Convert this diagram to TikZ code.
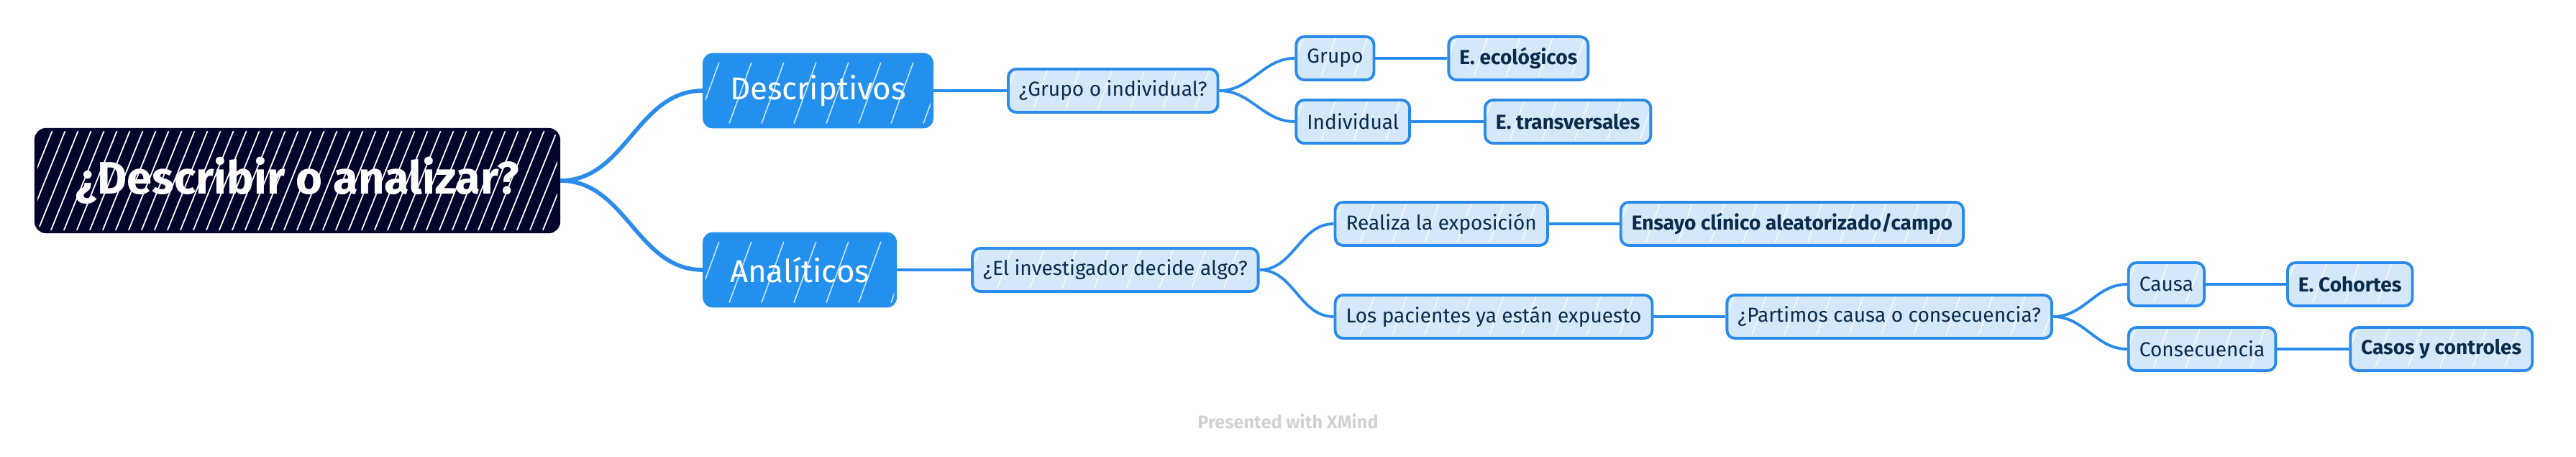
\documentclass[tikz,border=0pt]{standalone}
\usepackage{fontspec}
\setmainfont{Fira Sans}
\usetikzlibrary{positioning}

\definecolor{rootfill}{HTML}{03042C}
\definecolor{mainblue}{HTML}{2490EE}
\definecolor{lightfill}{HTML}{D4E8FA}
\definecolor{edgeblue}{HTML}{2A8BEA}
\definecolor{inkblue}{HTML}{0C2B4C}
\definecolor{wmark}{HTML}{D2D2D2}

\tikzset{
  densehatch/.style={path picture={
      \foreach \k in {-1.6,-1.42,...,9}
        \draw[white, line width=0.5pt] ([xshift=\k cm]path picture bounding box.south west) -- ++(68:1.7);}},
  lighthatch/.style={path picture={
      \foreach \k in {-1,-0.55,...,6}
        \draw[white, line width=0.45pt, opacity=0.75] ([xshift=\k cm, yshift=0.05cm]path picture bounding box.south west) -- ++(70:0.9);}},
  rootbox/.style={draw=rootfill, fill=rootfill, line width=1.2pt, rounded corners=0.14cm,
      text=white, font=\fontsize{18}{22}\selectfont\bfseries, minimum height=1.42cm,
      inner xsep=0.55cm, densehatch},
  mainbox/.style={draw=mainblue, fill=mainblue, line width=1.1pt, rounded corners=0.12cm,
      text=white, font=\fontsize{12.5}{15}\selectfont, minimum height=1.01cm,
      inner xsep=0.36cm, lighthatch},
  subbox/.style={draw=edgeblue, fill=lightfill, line width=1.1pt, rounded corners=0.11cm,
      text=inkblue, font=\fontsize{8}{10}\selectfont, minimum height=0.6cm,
      inner xsep=0.15cm, lighthatch},
  leafbox/.style={subbox, font=\fontsize{8}{10}\selectfont\bfseries},
  branch/.style={draw=edgeblue, line width=1.1pt},
}

\begin{document}
\begin{tikzpicture}[x=1cm, y=1cm]

  \useasboundingbox (0,0) rectangle (35.82,-6.34);

  % ==================== ROOT ====================

  \node (Root) [rootbox] at (4.135,-2.51) {¿Describir o analizar?};

  \node (Desc) [mainbox, right=1.98cm of Root.east, yshift=1.25cm] {Descriptivos};
  \node (Anal) [mainbox, right=1.98cm of Root.east, yshift=-1.24cm] {Analíticos};

  % ==================== DESCRIPTIVOS ====================

  \node (GrupoInd) [subbox, right=1.02cm of Desc.east] {¿Grupo o individual?};
  \node (Grupo) [subbox, right=1.05cm of GrupoInd.east, yshift=0.45cm] {Grupo};
  \node (Individual) [subbox, right=1.05cm of GrupoInd.east, yshift=-0.43cm] {Individual};
  \node (Ecol) [leafbox, right=1.0cm of Grupo.east] {E. ecológicos};
  \node (Transv) [leafbox, right=1.01cm of Individual.east] {E. transversales};

  % ==================== ANALITICOS ====================

  \node (Decide) [subbox, right=1.03cm of Anal.east] {¿El investigador decide algo?};
  \node (Realiza) [subbox, right=1.03cm of Decide.east, yshift=0.64cm] {Realiza la exposición};
  \node (Expuesto) [subbox, right=1.03cm of Decide.east, yshift=-0.65cm] {Los pacientes ya están expuesto};
  \node (Ensayo) [leafbox, right=0.98cm of Realiza.east] {Ensayo clínico aleatorizado/campo};
  \node (Partimos) [subbox, right=1.0cm of Expuesto.east] {¿Partimos causa o consecuencia?};
  \node (Causa) [subbox, right=1.03cm of Partimos.east, yshift=0.45cm] {Causa};
  \node (Consec) [subbox, right=1.03cm of Partimos.east, yshift=-0.45cm] {Consecuencia};
  \node (Cohortes) [leafbox, right=1.12cm of Causa.east] {E. Cohortes};
  \node (Casos) [leafbox, right=1.0cm of Consec.east] {Casos y controles};

  \node (Mark) [text=wmark, font=\fontsize{7.2}{9}\selectfont\bfseries] at (17.91,-5.85) {Presented with XMind};

  % ==================== BRANCHES ====================

  \draw[branch, line width=1.6pt] (Root.east) to[out=0, in=180] (Desc.west);
  \draw[branch, line width=1.6pt] (Root.east) to[out=0, in=180] (Anal.west);

  \draw[branch] (Desc.east) -- (GrupoInd.west);
  \draw[branch] (GrupoInd.east) to[out=0, in=180] (Grupo.west);
  \draw[branch] (GrupoInd.east) to[out=0, in=180] (Individual.west);
  \draw[branch] (Grupo.east) -- (Ecol.west);
  \draw[branch] (Individual.east) -- (Transv.west);

  \draw[branch] (Anal.east) -- (Decide.west);
  \draw[branch] (Decide.east) to[out=0, in=180] (Realiza.west);
  \draw[branch] (Decide.east) to[out=0, in=180] (Expuesto.west);
  \draw[branch] (Realiza.east) -- (Ensayo.west);
  \draw[branch] (Expuesto.east) -- (Partimos.west);
  \draw[branch] (Partimos.east) to[out=0, in=180] (Causa.west);
  \draw[branch] (Partimos.east) to[out=0, in=180] (Consec.west);
  \draw[branch] (Causa.east) -- (Cohortes.west);
  \draw[branch] (Consec.east) -- (Casos.west);

\end{tikzpicture}
\end{document}
